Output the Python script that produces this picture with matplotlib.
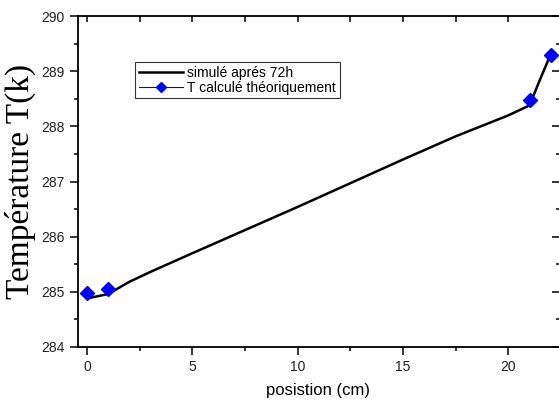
import numpy as np
import matplotlib.pyplot as plt
from matplotlib.lines import Line2D
from matplotlib.ticker import MultipleLocator

# ---------------------------------------------------------------------------
# DATA
# ---------------------------------------------------------------------------

# simulated profile after 72 h
x_sim = [0, 0.5, 1, 2, 3, 5, 7.5, 10, 12.5, 15, 17.5, 20, 21, 21.5, 22]
T_sim = [284.88, 284.92, 284.96, 285.18, 285.36, 285.70, 286.12, 286.54,
         286.97, 287.40, 287.82, 288.20, 288.38, 288.85, 289.30]

# theoretical temperature points
x_theo = [0, 1, 21, 22]
T_theo = [284.97, 285.06, 288.47, 289.29]

label_sim = "simulé aprés 72h"
label_theo = "T calculé théoriquement"

# ---------------------------------------------------------------------------
# PLOT
# ---------------------------------------------------------------------------

plt.rcParams["font.family"] = ["Liberation Sans", "DejaVu Sans"]

fig = plt.figure(figsize=(5.59, 4.01), dpi=100)
ax = fig.add_axes([0.1395, 0.1347, 0.8605, 0.8253])

ax.plot(x_sim, T_sim, "k-", lw=1.8, zorder=2)
ax.plot(x_theo, T_theo, ls="none", marker="D", ms=7.5, color="#0000ff",
        mec="#0000ff", zorder=3)

ax.set_xlim(-0.43, 22.4)
ax.set_ylim(284, 290)

ax.xaxis.set_major_locator(MultipleLocator(5))
ax.xaxis.set_minor_locator(MultipleLocator(2.5))
ax.yaxis.set_major_locator(MultipleLocator(1))
ax.yaxis.set_minor_locator(MultipleLocator(0.5))

ax.tick_params(axis="both", which="major", direction="out", length=5.5,
               width=1.1, labelsize=10, labelcolor="#222222", pad=4)
ax.tick_params(axis="both", which="minor", direction="out", length=3, width=1.1)

for side in ("left", "bottom", "top"):
    ax.spines[side].set_linewidth(1.3)
ax.spines["right"].set_visible(False)

# top and right ticks point inward, without labels
top = ax.secondary_xaxis("top")
top.xaxis.set_major_locator(MultipleLocator(5))
top.xaxis.set_minor_locator(MultipleLocator(2.5))
top.tick_params(which="both", direction="in", length=4, width=1.1,
                labeltop=False)
top.spines["top"].set_visible(False)

right = ax.secondary_yaxis("right")
right.yaxis.set_major_locator(MultipleLocator(1))
right.yaxis.set_minor_locator(MultipleLocator(0.5))
right.tick_params(which="major", direction="in", length=5, width=1.1,
                  labelright=False)
right.tick_params(which="minor", direction="in", length=2.5, width=1.1,
                  labelright=False)
right.spines["right"].set_visible(False)

ax.set_xlabel("posistion (cm)", fontsize=12, labelpad=6)
ax.set_ylabel("Température T(k)", fontsize=24, family=["Liberation Serif"],
              labelpad=4)

handles = [
    Line2D([], [], color="k", lw=1.8),
    Line2D([], [], color="#0000ff", lw=0.8, marker="D", ms=5),
]
leg = ax.legend(handles, [label_sim, label_theo], loc="upper left",
                bbox_to_anchor=(0.119, 0.861), fontsize=10, frameon=True,
                fancybox=False, edgecolor="k", borderpad=0.25,
                handlelength=3.2, handletextpad=0.3, labelspacing=0.1,
                borderaxespad=0)
leg.get_frame().set_linewidth(0.8)

fig.savefig("out.png", dpi=100)
